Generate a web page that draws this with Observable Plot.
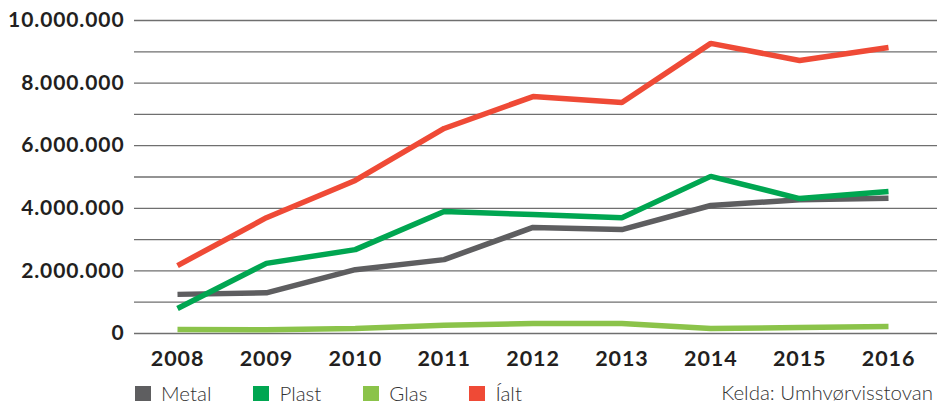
<!DOCTYPE html>
<html>
<head>
<meta charset="utf-8">
<script src="https://cdn.jsdelivr.net/npm/d3@7"></script>
<script src="https://cdn.jsdelivr.net/npm/@observablehq/plot@0.6"></script>
<style>
  html, body { margin: 0; padding: 0; background: #fff; }
  body { width: 937px; height: 404px; overflow: hidden; font-family: Lato, "Open Sans", sans-serif; }
  #chart svg { display: block; }
  #chart svg text { letter-spacing: 0.9px; }
  #legend { position: relative; height: 24px; width: 937px; font-size: 20.5px; font-weight: 300; color: #333; }
  #legend .items { position: absolute; left: 135px; top: 1px; display: flex; align-items: center; }
  #legend .item { display: flex; align-items: center; margin-right: 42px; }
  #legend .sw { width: 16px; height: 15px; margin-right: 10px; }
  #legend .src { position: absolute; right: 4px; top: 0px; }
</style>
</head>
<body>
<div id="chart"></div>
<div id="legend"></div>
<script>
const years = [2008, 2009, 2010, 2011, 2012, 2013, 2014, 2015, 2016];
const metal = [1250000, 1300000, 2040000, 2360000, 3390000, 3320000, 4090000, 4270000, 4320000];
const plast = [800000, 2240000, 2680000, 3900000, 3800000, 3700000, 5020000, 4310000, 4540000];
const glas  = [130000, 120000, 160000, 260000, 320000, 320000, 160000, 190000, 220000];
const ialt  = [2170000, 3700000, 4890000, 6550000, 7570000, 7380000, 9270000, 8720000, 9140000];
const seriesLabels = ["Metal", "Plast", "Glas", "\u00CDalt"];
const colors = ["#5e5e60", "#00a651", "#8bc34a", "#ef4a36"];
const yTicks = [0, 2000000, 4000000, 6000000, 8000000, 10000000];
const gridTicks = [0, 1000000, 2000000, 3000000, 4000000, 5000000, 6000000, 7000000, 8000000, 9000000, 10000000];
const source = "Kelda: Umhvørvisstovan";

const valueSets = [metal, plast, glas, ialt];
const data = [];
seriesLabels.forEach((s, i) => {
  years.forEach((y, j) => data.push({series: s, year: y, value: valueSets[i][j]}));
});

const loc = d3.formatLocale({decimal: ",", thousands: ".", grouping: [3], currency: ["", ""]});
const fmt = loc.format(",");

const chart = Plot.plot({
  width: 937,
  height: 380,
  marginLeft: 134,
  marginRight: 0,
  marginTop: 20,
  marginBottom: 47,
  style: {fontFamily: "Lato, 'Open Sans', sans-serif", background: "#fff"},
  x: {type: "linear", domain: [2008, 2016], insetLeft: 43, insetRight: 49},
  y: {domain: [0, 10000000]},
  color: {domain: seriesLabels, range: colors},
  marks: [
    Plot.ruleY(gridTicks, {stroke: "#6f6f6f", strokeWidth: 1.3}),
    Plot.axisY({ticks: yTicks, tickSize: 0, tickPadding: 10, tickFormat: fmt, label: null,
      fontSize: 21, fontWeight: 700, fill: "#231f20"}),
    Plot.axisX({ticks: years, tickSize: 0, tickPadding: 17, tickFormat: d => String(d), label: null,
      fontSize: 21.5, fontWeight: 700, fill: "#231f20"}),
    Plot.line(data, {x: "year", y: "value", z: "series", stroke: "series", strokeWidth: 5.5,
      strokeLinejoin: "miter", strokeLinecap: "butt"})
  ]
});
document.getElementById("chart").appendChild(chart);

const leg = document.getElementById("legend");
const items = document.createElement("div");
items.className = "items";
seriesLabels.forEach((s, i) => {
  const it = document.createElement("div");
  it.className = "item";
  const sw = document.createElement("span");
  sw.className = "sw";
  sw.style.background = colors[i];
  const t = document.createElement("span");
  t.textContent = s;
  it.appendChild(sw); it.appendChild(t);
  items.appendChild(it);
});
leg.appendChild(items);
const src = document.createElement("div");
src.className = "src";
src.textContent = source;
leg.appendChild(src);
</script>
</body>
</html>
